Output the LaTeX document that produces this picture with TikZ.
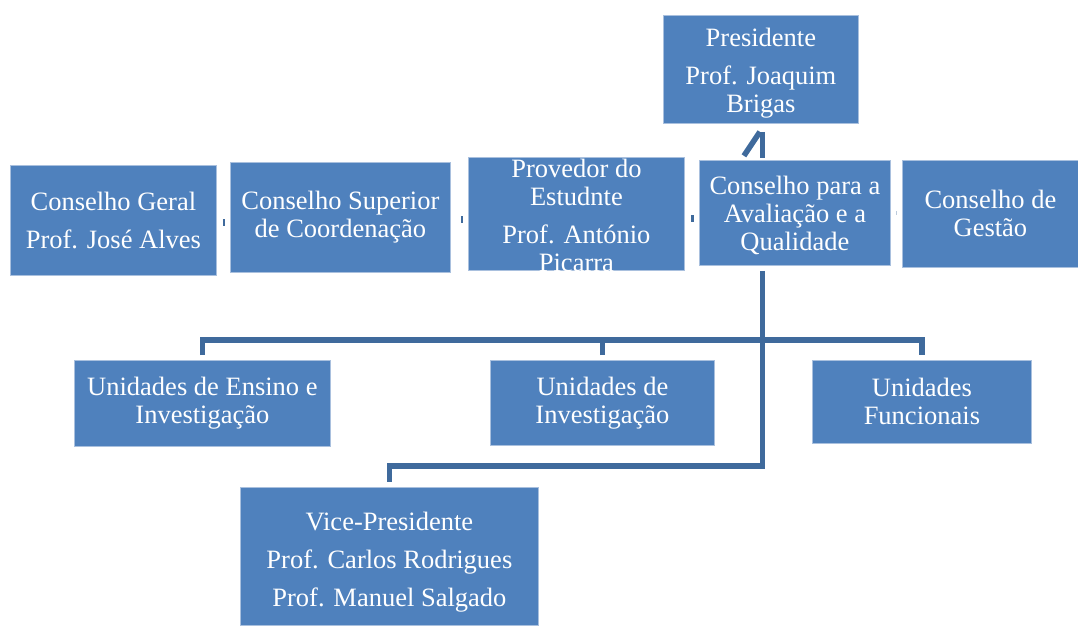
\documentclass[tikz,border=0pt]{standalone}
\usepackage{fontspec}
\setmainfont{Liberation Serif}

\definecolor{unitblue}{HTML}{4F81BD}
\definecolor{linkblue}{HTML}{3F6A9C}
\definecolor{edgeblue}{HTML}{A9C0DE}

\begin{document}
\begin{tikzpicture}[x=1pt,y=-1pt]
    \tikzstyle{u}=[draw=edgeblue, line width=0.8pt, fill=unitblue, text=white, anchor=north west, inner sep=0pt, align=center, font=\fontsize{26.5}{28}\selectfont]
    \tikzstyle{l}=[draw=linkblue, line width=5.5pt]
    \tikzstyle{t}=[draw=linkblue, line width=7pt]

    \def\sk{10pt}

    \useasboundingbox (0,0) rectangle (1078,625);

    \node[u, minimum width=195pt, minimum height=108pt] (pres) at (663,15) {\rule{0pt}{26pt}Presidente\\[\sk]Prof. Joaquim\\Brigas};

    \node[u, minimum width=206pt, minimum height=110pt] (geral) at (10,165) {Conselho Geral\\[\sk]Prof. José Alves};
    \node[u, minimum width=220pt, minimum height=110pt] (sup) at (230,162) {Conselho Superior\\de Coordenação};
    \node[u, minimum width=216pt, minimum height=113pt, inner ysep=-8pt] (prov) at (468,157) {\rule{0pt}{26pt}Provedor do\\Estudnte\\[\sk]Prof. António\\Piçarra};
    \node[u, minimum width=191pt, minimum height=105pt] (aval) at (699,160) {\rule{0pt}{24pt}Conselho para a\\Avaliação e a\\Qualidade};
    \node[u, minimum width=176pt, minimum height=107pt] (gest) at (902,160) {Conselho de\\Gestão};

    \node[u, minimum width=256pt, minimum height=86pt] (ensino) at (74,360) {Unidades de Ensino e\\Investigação};
    \node[u, minimum width=224pt, minimum height=85pt] (inv) at (490,360) {Unidades de\\Investigação};
    \node[u, minimum width=219pt, minimum height=83pt] (func) at (812,360) {Unidades\\Funcionais};

    \node[u, minimum width=298pt, minimum height=138pt] (vice) at (240,487) {\rule{0pt}{30pt}Vice-Presidente\\[\sk]Prof. Carlos Rodrigues\\[\sk]Prof. Manuel Salgado};

    % stubs between the councils
    \draw[t, shorten <=6pt, shorten >=5pt] ([yshift=-2pt]geral.east) -- ([yshift=-2pt]geral.east -| sup.west);
    \draw[t, shorten <=10pt, shorten >=5pt] ([yshift=-2pt]sup.east) -- ([yshift=-2pt]sup.east -| prov.west);
    \draw[t, shorten <=6pt, shorten >=5pt] ([yshift=-5pt]prov.east) -- ([yshift=-5pt]prov.east -| aval.west);
    \draw[t, draw opacity=.35, line width=4pt, shorten <=5pt, shorten >=5pt] (aval.east) -- (aval.east -| gest.west);

    % up to the president
    \draw[l] ([xshift=1.5pt]pres.south) ++(0,8) -- ++(0,26);
    \draw[l] ([xshift=-1pt]pres.south) ++(0,8) -- ++(-16,24);

    % trunk down to the units and the vice-president
    \draw[l, shorten >=5pt] ([xshift=-32.5pt]aval.south) ++(0,5) -- ++(0,195) -| (vice.north);
    \draw[l, shorten <=5pt, shorten >=5pt] (ensino.north) -- ++(0,-20) -| (func.north);
    \draw[l, shorten <=5pt] (inv.north) -- ++(0,-20);

\end{tikzpicture}
\end{document}
